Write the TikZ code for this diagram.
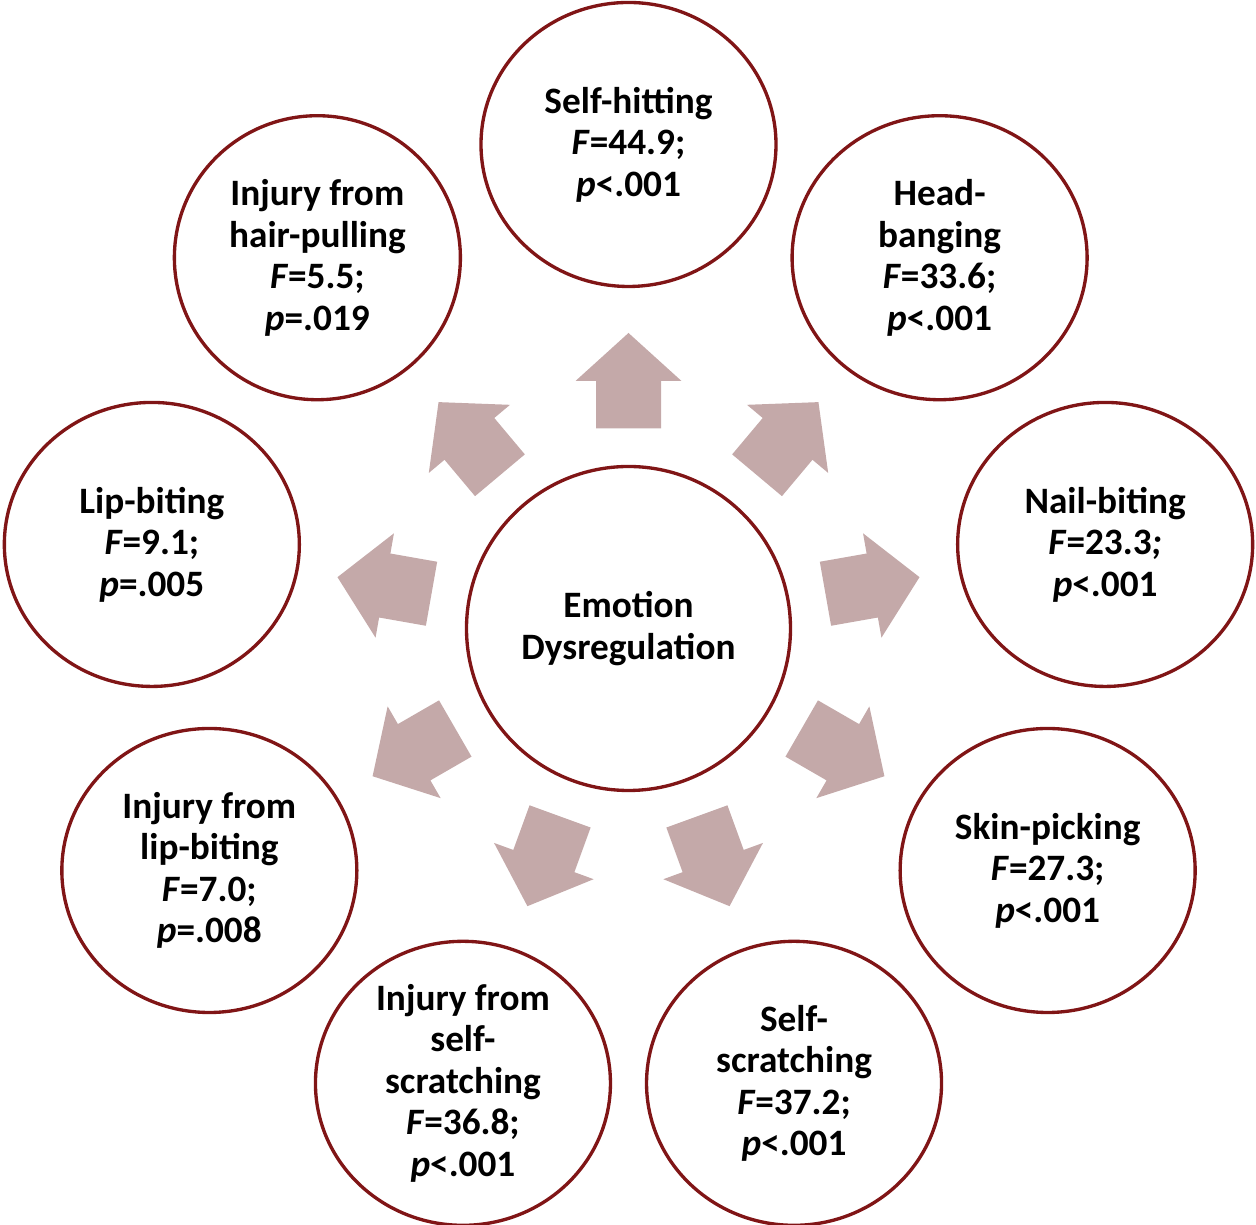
\documentclass[tikz,border=0pt]{standalone}
\usepackage{fontspec}
\setmainfont{Carlito}
\definecolor{ringred}{RGB}{128,21,22}
\definecolor{arrowpink}{RGB}{196,169,169}
\tikzset{
  ring/.style={draw=ringred, line width=0.95pt},
  bubbletext/.style={align=center, inner sep=0pt, font=\fontsize{10.6}{11.8}\selectfont\bfseries},
  blockarrow/.style={fill=arrowpink},
}
\begin{document}
\begin{tikzpicture}
\useasboundingbox (-6.285,-5.965) rectangle (6.275,6.285);
\coordinate (origin) at (0,0);
% Block arrows pointing outwards
\foreach \ang in {90,50,10,-30,-70,-110,-150,170,130}
  \fill[blockarrow, rotate=\ang] (2.0,-0.325) -- (2.475,-0.325) -- (2.475,-0.53) -- (2.955,0)
    -- (2.475,0.53) -- (2.475,0.325) -- (2.0,0.325) -- cycle;
% Centre circle
\node[bubbletext] (emotion) at (origin) {Emotion\\Dysregulation};
\draw[ring] (emotion.center) circle [radius=1.62];
% Outer circles
\node[bubbletext] (selfhit) at (90:4.84) {Self-hitting\\\textit{F}=44.9;\\\textit{p}<.001};
\node[bubbletext] (headbang) at (50:4.84) {Head-\\banging\\\textit{F}=33.6;\\\textit{p}<.001};
\node[bubbletext] (nailbite) at (10:4.84) {Nail-biting\\\textit{F}=23.3\textit{;}\\\textit{p}<.001};
\node[bubbletext] (skinpick) at (-30:4.84) {Skin-picking\\\textit{F}=27.3;\\\textit{p}<.001};
\node[bubbletext] (selfscratch) at (-70:4.84) {Self-\\scratching\\\textit{F}=37.2;\\\textit{p}<.001};
\node[bubbletext] (injscratch) at (-110:4.84) {Injury from\\self-\\scratching\\\textit{F}=36.8;\\\textit{p}<.001};
\node[bubbletext] (injlip) at (-150:4.84) {Injury from\\lip-biting\\\textit{F}=7.0;\\\textit{p}=.008};
\node[bubbletext] (lipbite) at (170:4.84) {Lip-biting\\\textit{F}=9.1;\\\textit{p}=.005};
\node[bubbletext] (injhair) at (130:4.84) {Injury from\\hair-pulling\\\textit{F}=5.5;\\\textit{p}=.019};
\foreach \n in {selfhit,headbang,nailbite,skinpick,selfscratch,injscratch,injlip,lipbite}
  \draw[ring] (\n.center) ellipse [x radius=1.475, y radius=1.42];
\draw[ring] (injhair.center) ellipse [x radius=1.43, y radius=1.42];
\end{tikzpicture}
\end{document}
